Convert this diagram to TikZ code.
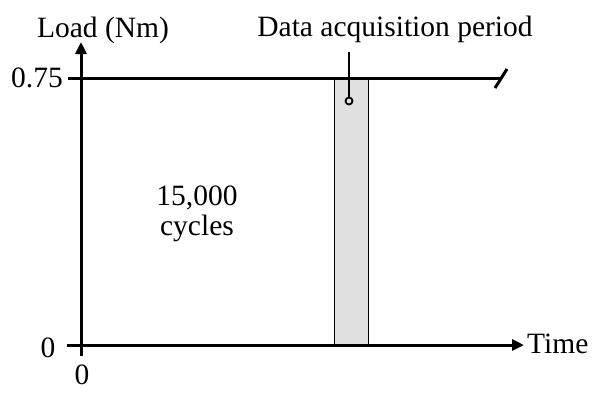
\documentclass[tikz,border=0pt]{standalone}
\usepackage{fontspec}
\setmainfont{Liberation Serif}
\usetikzlibrary{arrows.meta}
\begin{document}
\begin{tikzpicture}[x=1pt,y=-1pt,
  axis/.style={line width=3pt},
  lbl/.style={font=\fontsize{29.5}{32}\selectfont, inner sep=0pt},
  >={Triangle[length=12pt,width=11pt]}]
\useasboundingbox (0,0) rectangle (593,392);
% shaded acquisition period
\node[draw=black, line width=1pt, fill=black!12, minimum width=34pt, minimum height=267pt, inner sep=0pt, anchor=north west] (box) at (334,78) {};
% axes
\coordinate (ybot) at (81,356);
\coordinate (ytop) at (81,42);
\coordinate (xstart) at (67,345);
\coordinate (xend) at (524,345);
\draw[axis,->] (ybot) -- (ytop);
\draw[axis,->] (xstart) -- (xend);
% load line
\coordinate (l0) at (68,78);
\coordinate (l1) at (501,78);
\draw[axis] (l0) -- (l1);
\coordinate (s0) at (495,88);
\coordinate (s1) at (507,69);
\draw[line width=3pt] (s0) -- (s1);
% labels
\node[lbl, anchor=base] (ylab) at (103,37) {Load (Nm)};
\node[lbl, anchor=east] (v75) at (63,78) {0.75};
\node[lbl] (v0) at (48,348) {0};
\node[lbl, anchor=base] (h0) at (82,384) {0};
\node[lbl, anchor=base west] (tlab) at (527,353) {Time};
\node[lbl, anchor=base] (dap) at (395,36) {Data acquisition period};
\node[lbl, anchor=base] (cyc1) at (197,205) {15,000};
\node[lbl, anchor=base] (cyc2) at (197,235) {cycles};
% pointer
\node[draw, circle, line width=1.8pt, minimum size=7pt, inner sep=0pt] (dot) at (349,101) {};
\coordinate (ptop) at (349,52);
\draw[line width=1.5pt] (ptop) -- (dot.north);
\end{tikzpicture}
\end{document}
